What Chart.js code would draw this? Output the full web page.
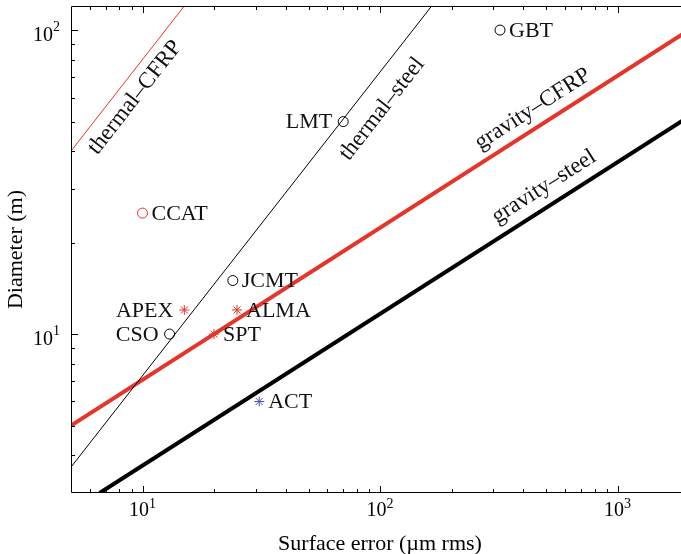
<!DOCTYPE html>
<html>
<head>
<meta charset="utf-8">
<script src="https://cdn.jsdelivr.net/npm/chart.js@4.4.0/dist/chart.umd.min.js"></script>
<style>
html, body { margin: 0; padding: 0; background: #fff; overflow: hidden; }
#wrap { width: 681px; height: 554px; }
</style>
</head>
<body>
<div id="wrap"><canvas id="chart" width="681" height="554"></canvas></div>
<script>
// telescopes: surface error (um rms) against diameter (m)
const blackCircleNames = ['GBT', 'LMT', 'JCMT', 'CSO'];
const blackCircleX = [320, 70, 24, 13];
const blackCircleY = [100, 50, 15, 10];
const blackCircleSide = ['right', 'left', 'right', 'left'];

const redCircleNames = ['CCAT'];
const redCircleX = [10];
const redCircleY = [25];
const redCircleSide = ['right'];

const redStarNames = ['APEX', 'ALMA', 'SPT'];
const redStarX = [15, 25, 20];
const redStarY = [12, 12, 10];
const redStarSide = ['left', 'right', 'right'];

const blueStarNames = ['ACT'];
const blueStarX = [31];
const blueStarY = [6];
const blueStarSide = ['right'];

// limit lines, straight in log-log, end points
const thermalCfrpX = [5, 15];
const thermalCfrpY = [40, 120];
const thermalSteelX = [5, 165];
const thermalSteelY = [3.65, 120];
const gravityCfrpX = [5, 2000];
const gravityCfrpY = [5, 100];
const gravitySteelX = [6.6, 2000];
const gravitySteelY = [3, 52];

// line labels (centre of text, data coords)
const lineLabelNames = ['thermal\u2013CFRP', 'thermal\u2013steel', 'gravity\u2013CFRP', 'gravity\u2013steel'];
const lineLabelX = [9.3, 102, 440, 490];
const lineLabelY = [60, 55, 55, 30.5];

// axes; the picture is cut on the right, so the box has no right side
const xMin = 5, xMax = 1850;
const yMin = 3, yMax = 120;
const xTickValues = [10, 100, 1000];
const xTickExp = ['1', '2', '3'];
const yTickValues = [10, 100];
const yTickExp = ['1', '2'];

const RED = '#e5352b';
const BLUE = '#4656c0';
const SERIF = '"Liberation Serif", "Times New Roman", serif';

function pts(xs, ys) {
    return xs.map((v, i) => ({ x: v, y: ys[i] }));
}

function lineSet(xs, ys, color, width) {
    return {
        type: 'line',
        data: pts(xs, ys),
        borderColor: color,
        borderWidth: width,
        pointRadius: 0,
        showLine: true,
        fill: false
    };
}

function markerSet(xs, ys, names, sides, style, color) {
    return {
        type: 'scatter',
        data: pts(xs, ys),
        names: names,
        sides: sides,
        pointStyle: style,
        pointRadius: 5,
        pointBorderWidth: 1,
        borderColor: color,
        backgroundColor: 'rgba(0,0,0,0)',
        showLine: false
    };
}

const lineSets = [
    lineSet(thermalCfrpX, thermalCfrpY, RED, 1),
    lineSet(thermalSteelX, thermalSteelY, '#000', 1),
    lineSet(gravityCfrpX, gravityCfrpY, RED, 4),
    lineSet(gravitySteelX, gravitySteelY, '#000', 4)
];

const markerSets = [
    markerSet(blackCircleX, blackCircleY, blackCircleNames, blackCircleSide, 'circle', '#000'),
    markerSet(redCircleX, redCircleY, redCircleNames, redCircleSide, 'circle', RED),
    markerSet(redStarX, redStarY, redStarNames, redStarSide, 'star', RED),
    markerSet(blueStarX, blueStarY, blueStarNames, blueStarSide, 'star', BLUE)
];

function minorTicks(lo, hi) {
    const out = [];
    for (let d = 1; d <= 1000; d *= 10) {
        for (let m = 2; m <= 9; m++) {
            const v = m * d;
            if (v > lo && v < hi) out.push(v);
        }
    }
    return out;
}

const axesPlugin = {
    id: 'axesPlugin',
    afterDraw(chart) {
        const ctx = chart.ctx;
        const a = chart.chartArea;
        const xs = chart.scales.x;
        const ys = chart.scales.y;
        ctx.save();
        ctx.strokeStyle = '#000';
        ctx.lineWidth = 1;

        // frame: left, top, bottom
        ctx.beginPath();
        ctx.moveTo(a.right + 1, a.top + 0.5);
        ctx.lineTo(a.left + 0.5, a.top + 0.5);
        ctx.lineTo(a.left + 0.5, a.bottom - 0.5);
        ctx.lineTo(a.right + 1, a.bottom - 0.5);
        ctx.stroke();

        // ticks, pointing inward
        ctx.beginPath();
        const tickX = (v, len) => {
            const px = Math.round(xs.getPixelForValue(v)) + 0.5;
            ctx.moveTo(px, a.bottom); ctx.lineTo(px, a.bottom - len);
            ctx.moveTo(px, a.top); ctx.lineTo(px, a.top + len);
        };
        const tickY = (v, len) => {
            const py = Math.round(ys.getPixelForValue(v)) + 0.5;
            ctx.moveTo(a.left, py); ctx.lineTo(a.left + len, py);
        };
        xTickValues.forEach(v => tickX(v, 7));
        minorTicks(xMin, xMax).forEach(v => tickX(v, 4));
        yTickValues.forEach(v => tickY(v, 7));
        minorTicks(yMin, yMax).forEach(v => tickY(v, 4));
        ctx.stroke();

        // tick labels, 10 with superscript
        ctx.fillStyle = '#000';
        ctx.textBaseline = 'alphabetic';
        const baseFont = '20px ' + SERIF;
        const expFont = '14px ' + SERIF;
        xTickValues.forEach((v, i) => {
            const px = xs.getPixelForValue(v);
            ctx.font = baseFont;
            const w1 = ctx.measureText('10').width;
            ctx.font = expFont;
            const w2 = ctx.measureText(xTickExp[i]).width;
            const x0 = px - (w1 + w2) / 2;
            ctx.textAlign = 'left';
            ctx.font = baseFont;
            ctx.fillText('10', x0, a.bottom + 23);
            ctx.font = expFont;
            ctx.fillText(xTickExp[i], x0 + w1, a.bottom + 15);
        });
        yTickValues.forEach((v, i) => {
            const py = ys.getPixelForValue(v);
            ctx.font = expFont;
            const w2 = ctx.measureText(yTickExp[i]).width;
            const xr = a.left - 11;
            ctx.textAlign = 'right';
            ctx.fillText(yTickExp[i], xr, py + 1);
            ctx.font = baseFont;
            ctx.fillText('10', xr - w2, py + 11);
        });

        // axis titles
        ctx.font = '22px ' + SERIF;
        ctx.textAlign = 'center';
        ctx.fillText('Surface error (\u00b5m rms)', 380, 550);
        ctx.save();
        ctx.translate(22, (a.top + a.bottom) / 2);
        ctx.rotate(-Math.PI / 2);
        ctx.fillText('Diameter (m)', 0, 0);
        ctx.restore();

        // marker names
        ctx.font = '22px ' + SERIF;
        ctx.textBaseline = 'middle';
        ctx.fillStyle = '#111';
        markerSets.forEach((ds, di) => {
            const meta = chart.getDatasetMeta(lineSets.length + di);
            meta.data.forEach((el, i) => {
                if (ds.sides[i] === 'right') {
                    ctx.textAlign = 'left';
                    ctx.fillText(ds.names[i], el.x + 9, el.y + 1);
                } else {
                    ctx.textAlign = 'right';
                    ctx.fillText(ds.names[i], el.x - 11, el.y + 1);
                }
            });
        });

        // line names, rotated along their line
        ctx.font = '23px ' + SERIF;
        ctx.textAlign = 'center';
        lineLabelNames.forEach((name, i) => {
            const ln = lineSets[i].data;
            const x1 = xs.getPixelForValue(ln[0].x), y1 = ys.getPixelForValue(ln[0].y);
            const x2 = xs.getPixelForValue(ln[1].x), y2 = ys.getPixelForValue(ln[1].y);
            const ang = Math.atan2(y2 - y1, x2 - x1);
            ctx.save();
            ctx.translate(xs.getPixelForValue(lineLabelX[i]), ys.getPixelForValue(lineLabelY[i]));
            ctx.rotate(ang);
            ctx.fillText(name, 0, 0);
            ctx.restore();
        });

        ctx.restore();
    }
};

new Chart(document.getElementById('chart').getContext('2d'), {
    type: 'scatter',
    data: { datasets: lineSets.concat(markerSets) },
    options: {
        responsive: false,
        animation: false,
        layout: { autoPadding: false, padding: { left: 71, top: 6, right: 0, bottom: 61 } },
        scales: {
            x: { type: 'logarithmic', min: xMin, max: xMax, display: false },
            y: { type: 'logarithmic', min: yMin, max: yMax, display: false }
        },
        plugins: {
            legend: { display: false },
            tooltip: { enabled: false }
        }
    },
    plugins: [axesPlugin]
});
</script>
</body>
</html>
